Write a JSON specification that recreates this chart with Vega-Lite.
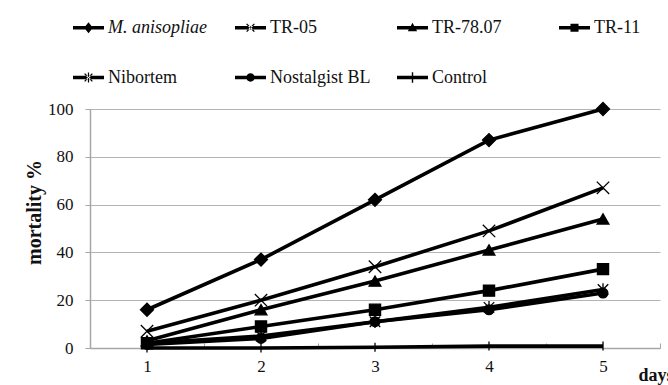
{
  "$schema": "https://vega.github.io/schema/vega-lite/v6.json",
  "width": 570,
  "height": 239,
  "autosize": {"type": "none"},
  "padding": {"left": 90, "top": 109, "right": 8, "bottom": 37},
  "background": "white",
  "config": {
    "view": {"stroke": null},
    "font": "Liberation Serif",
    "axis": {"labelFont": "Liberation Serif", "titleFont": "Liberation Serif", "labelColor": "#111", "titleColor": "#111", "domainColor": "#a6a6a6", "tickColor": "#a6a6a6", "gridColor": "#b4b4b4"},
    "legend": {"labelFont": "Liberation Serif"}
  },
  "data": {
    "values": [
      {"series": "M. anisopliae", "day": 1, "mortality": 16},
      {"series": "M. anisopliae", "day": 2, "mortality": 37},
      {"series": "M. anisopliae", "day": 3, "mortality": 62},
      {"series": "M. anisopliae", "day": 4, "mortality": 87},
      {"series": "M. anisopliae", "day": 5, "mortality": 100},
      {"series": "TR-05", "day": 1, "mortality": 7},
      {"series": "TR-05", "day": 2, "mortality": 20},
      {"series": "TR-05", "day": 3, "mortality": 34},
      {"series": "TR-05", "day": 4, "mortality": 49},
      {"series": "TR-05", "day": 5, "mortality": 67},
      {"series": "TR-78.07", "day": 1, "mortality": 3},
      {"series": "TR-78.07", "day": 2, "mortality": 16},
      {"series": "TR-78.07", "day": 3, "mortality": 28},
      {"series": "TR-78.07", "day": 4, "mortality": 41},
      {"series": "TR-78.07", "day": 5, "mortality": 54},
      {"series": "TR-11", "day": 1, "mortality": 2},
      {"series": "TR-11", "day": 2, "mortality": 9},
      {"series": "TR-11", "day": 3, "mortality": 16},
      {"series": "TR-11", "day": 4, "mortality": 24},
      {"series": "TR-11", "day": 5, "mortality": 33},
      {"series": "Nibortem", "day": 1, "mortality": 2},
      {"series": "Nibortem", "day": 2, "mortality": 5},
      {"series": "Nibortem", "day": 3, "mortality": 11},
      {"series": "Nibortem", "day": 4, "mortality": 17},
      {"series": "Nibortem", "day": 5, "mortality": 24.5},
      {"series": "Nostalgist BL", "day": 1, "mortality": 1.5},
      {"series": "Nostalgist BL", "day": 2, "mortality": 4},
      {"series": "Nostalgist BL", "day": 3, "mortality": 11},
      {"series": "Nostalgist BL", "day": 4, "mortality": 16},
      {"series": "Nostalgist BL", "day": 5, "mortality": 23},
      {"series": "Control", "day": 1, "mortality": 0},
      {"series": "Control", "day": 2, "mortality": 0},
      {"series": "Control", "day": 3, "mortality": 0.3},
      {"series": "Control", "day": 4, "mortality": 0.8},
      {"series": "Control", "day": 5, "mortality": 0.8}
    ]
  },
  "encoding": {
    "x": {
      "field": "day", "type": "ordinal",
      "scale": {"type": "band", "paddingInner": 0, "paddingOuter": 0},
      "axis": {
        "title": "days", "titleFont": "Liberation Serif", "titleFontWeight": "bold", "titleFontSize": 18,
        "titleAlign": "left", "titleBaseline": "alphabetic", "titleX": 548, "titleY": 32,
        "labelFont": "Liberation Serif", "labelAngle": 0, "labelFontSize": 17, "labelPadding": 15,
        "tickBand": "extent", "tickSize": -5, "grid": false, "domainWidth": 1.5
      }
    },
    "y": {
      "field": "mortality", "type": "quantitative",
      "scale": {"domain": [0, 100], "nice": false},
      "axis": {
        "title": "mortality %", "titleFont": "Liberation Serif", "titleFontWeight": "bold", "titleFontSize": 20,
        "titleAngle": -90, "titleAlign": "center", "titleBaseline": "middle", "titleX": -56, "titleY": 103,
        "labelFont": "Liberation Serif", "values": [0, 20, 40, 60, 80, 100], "labelFontSize": 17, "labelPadding": 12, "tickSize": 5,
        "grid": true, "gridWidth": 1.2, "domainWidth": 1.5
      }
    }
  },
  "layer": [
    {
      "mark": {"type": "line", "color": "black", "strokeWidth": 3.6},
      "encoding": {"detail": {"field": "series"}}
    },
    {
      "mark": {"type": "point", "filled": true, "fill": "black", "stroke": "black", "strokeWidth": 1.3, "opacity": 1},
      "encoding": {
        "shape": {
          "field": "series", "type": "nominal", "legend": null,
          "scale": {
            "domain": ["M. anisopliae", "TR-05", "TR-78.07", "TR-11", "Nibortem", "Nostalgist BL", "Control"],
            "range": ["diamond", "M-1,-1L1,1M-1,1L1,-1", "triangle-up", "square", "M-1,-1L1,1M-1,1L1,-1M0,-1.2L0,1.2", "circle", "M0,-1L0,1"]
          }
        },
        "size": {
          "field": "series", "type": "nominal", "legend": null,
          "scale": {
            "domain": ["M. anisopliae", "TR-05", "TR-78.07", "TR-11", "Nibortem", "Nostalgist BL", "Control"],
            "range": [169, 80, 100, 90, 80, 110, 110]
          }
        }
      }
    },
    {
      "mark": {"type": "point", "filled": true, "color": "black", "opacity": 0, "size": 961},
      "encoding": {
        "shape": {
          "field": "series", "type": "nominal",
          "scale": {
            "domain": ["M. anisopliae", "TR-05", "TR-78.07", "TR-11", "Nibortem", "Nostalgist BL", "Control"],
            "range": [
              "M-1,-0.12H1V0.12H-1ZM0,-0.36L0.28,0L0,0.36L-0.28,0Z",
              "M-1,-0.12H1V0.12H-1ZM-0.28,-0.22L0.22,0.28L0.28,0.22L-0.22,-0.28ZM-0.28,0.22L-0.22,0.28L0.28,-0.22L0.22,-0.28Z",
              "M-1,-0.12H1V0.12H-1ZM0,-0.32L0.3,0.22L-0.3,0.22Z",
              "M-1,-0.12H1V0.12H-1ZM-0.26,-0.26H0.26V0.26H-0.26Z",
              "M-1,-0.12H1V0.12H-1ZM-0.28,-0.22L0.22,0.28L0.28,0.22L-0.22,-0.28ZM-0.28,0.22L-0.22,0.28L0.28,-0.22L0.22,-0.28ZM-0.04,-0.32H0.04V0.32H-0.04Z",
              "M-1,-0.12H1V0.12H-1ZM0.27,0A0.27,0.27,0,1,1,-0.27,0A0.27,0.27,0,1,1,0.27,0Z",
              "M-1,-0.12H1V0.12H-1ZM-0.045,-0.34H0.045V0.34H-0.045Z"
            ]
          },
          "legend": {
            "title": null, "orient": "none", "legendX": -18, "legendY": -98,
            "direction": "horizontal", "columns": 4, "gridAlign": "all",
            "columnPadding": 23, "rowPadding": 24,
            "symbolSize": 961, "symbolFillColor": "black", "symbolOpacity": 1,
            "labelFont": "Liberation Serif", "labelFontSize": 18, "labelColor": "#111", "labelOffset": 3, "labelLimit": 200,
            "labelFontStyle": {"expr": "datum.label == 'M. anisopliae' ? 'italic' : 'normal'"}
          }
        }
      }
    }
  ],
  "resolve": {"scale": {"shape": "independent", "size": "independent"}, "legend": {"shape": "independent"}}
}
